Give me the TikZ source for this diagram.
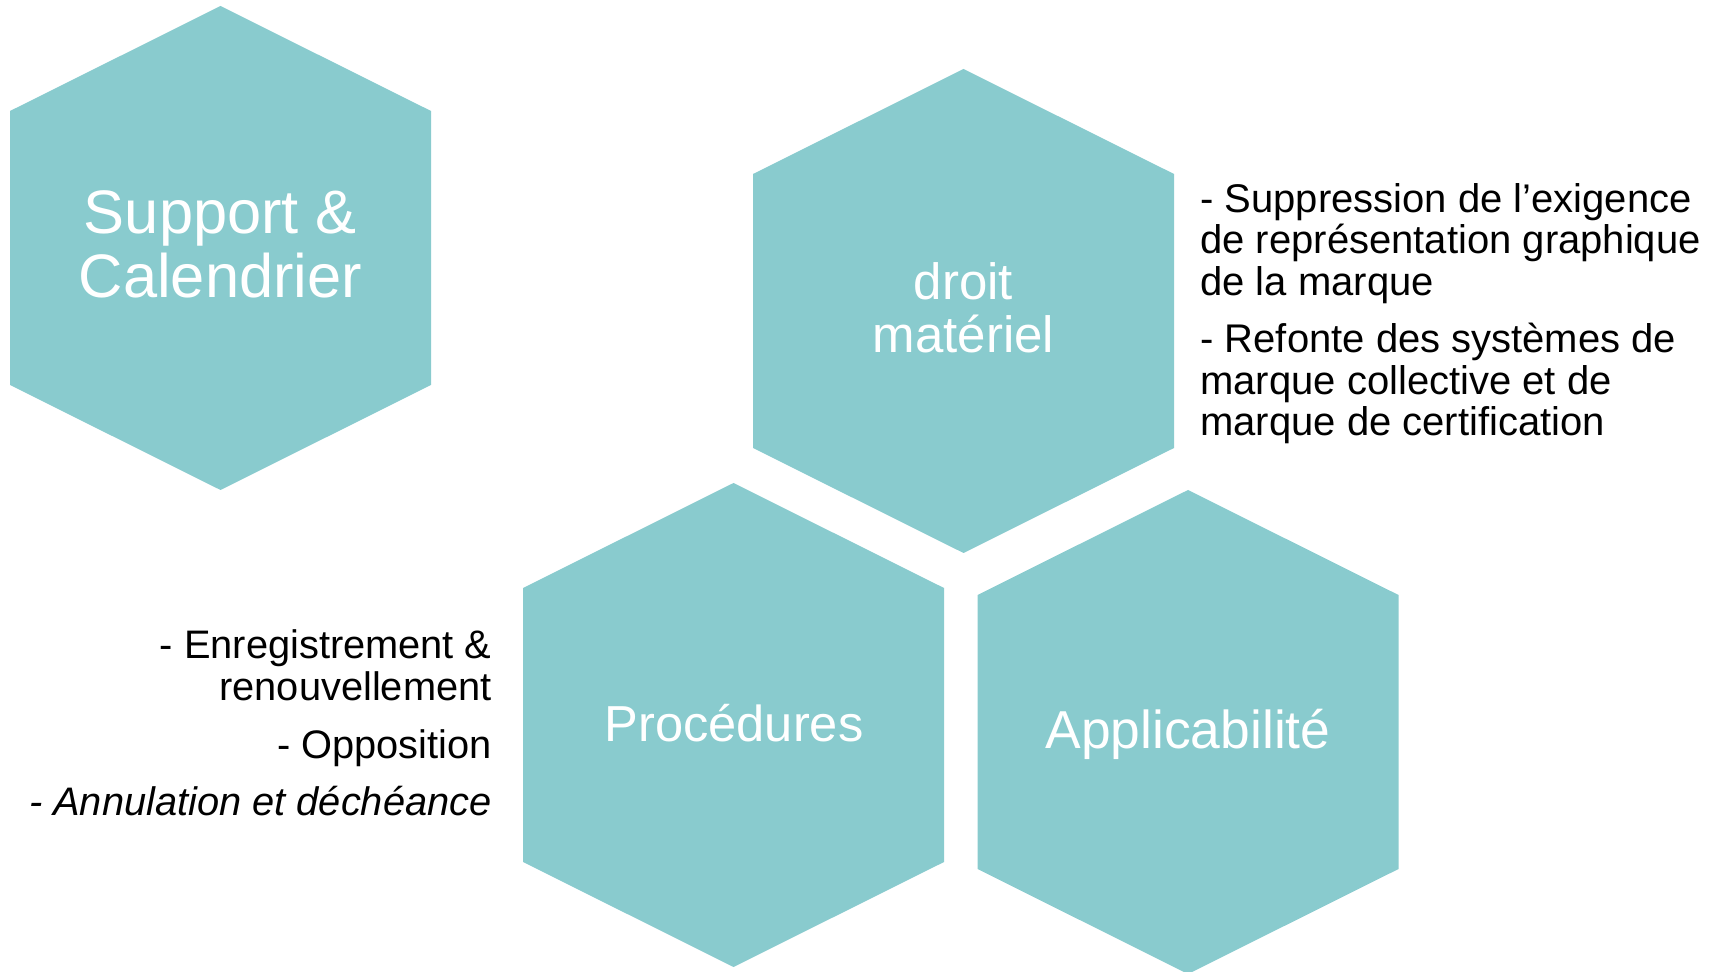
\documentclass[tikz,border=0pt]{standalone}
\usepackage{fontspec}
\setmainfont{Liberation Sans}
\definecolor{hexteal}{HTML}{89CBCE}
\newcommand{\hexpath}[2]{% #1 = center x, #2 = top y
  \fill[hexfill] (#1,#2) -- ++(210.5,105) -- ++(0,274) -- ++(-210.5,105) -- ++(-210.5,-105) -- ++(0,-274) -- cycle;}
\begin{document}
\begin{tikzpicture}[x=0.5pt,y=-0.5pt,
  hexfill/.style={fill=hexteal},
  hextext/.style={text=white,inner sep=0pt,align=center,anchor=base},
  sidetext/.style={text=black,inner sep=0pt,anchor=base west,align=left,font=\fontsize{20pt}{20.8pt}\selectfont},
  lefttext/.style={text=black,inner sep=0pt,anchor=base east,align=right,font=\fontsize{19.9pt}{20.8pt}\selectfont}]
\useasboundingbox (0,0) rectangle (1719,972);
\hexpath{220.5}{6}
\hexpath{963.5}{69}
\hexpath{733.5}{483}
\hexpath{1188}{490}
\node[hextext,font=\fontsize{30.7pt}{32pt}\selectfont] (support) at (220.5,298) {Support \&\\Calendrier};
\node[hextext,font=\fontsize{25.5pt}{26.5pt}\selectfont] (droit) at (963.5,353) {droit\\matériel};
\node[hextext,font=\fontsize{25.3pt}{26.5pt}\selectfont] (proc) at (734,741) {Procédures};
\node[hextext,font=\fontsize{26.7pt}{27pt}\selectfont] (appl) at (1188,748) {Applicabilité};
\node[sidetext] (supp) at (1200,295.5) {- Suppression de l’exigence\\de représentation graphique\\de la marque};
\node[sidetext] (refonte) at (1200,436) {- Refonte des systèmes de\\marque collective et de\\marque de certification};
\node[lefttext] (enreg) at (492,700) {- Enregistrement \&\\renouvellement};
\node[lefttext] (oppo) at (492,758) {- Opposition};
\node[lefttext] (annul) at (492,815) {\itshape - Annulation et déchéance};
\end{tikzpicture}
\end{document}
